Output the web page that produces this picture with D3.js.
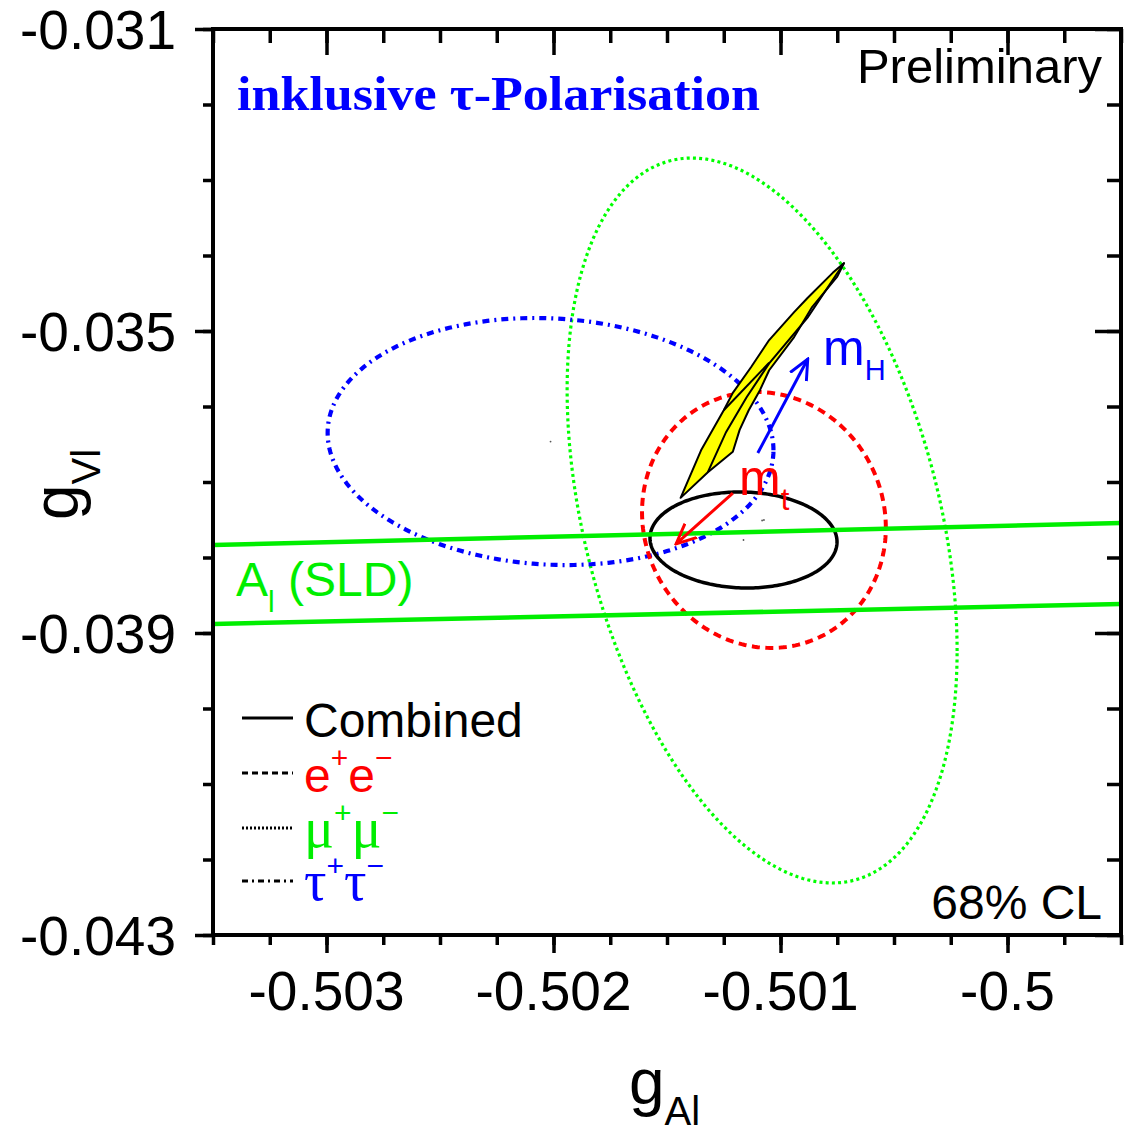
<!DOCTYPE html>
<html>
<head>
<meta charset="utf-8">
<script src="https://cdn.jsdelivr.net/npm/d3@7"></script>
<style>
    body { margin: 0; background: #fff; }
    svg { display: block; }
    text { font-family: Arial, "Liberation Sans", Helvetica, sans-serif; }
    .greek { font-family: "Liberation Serif", "Times New Roman", serif; font-size: 56px; }
</style>
</head>
<body>
<svg id="chart" width="1130" height="1127"></svg>
<script>

    // axes
    var xDomain = [-0.5035, -0.4995];
    var yDomain = [-0.043, -0.031];
    var xMajorTicks = [-0.503, -0.502, -0.501, -0.5];
    var xTickLabels = ["-0.503", "-0.502", "-0.501", "-0.5"];
    var yMajorTicks = [-0.043, -0.039, -0.035, -0.031];
    var yTickLabels = ["-0.043", "-0.039", "-0.035", "-0.031"];

    // 68% CL contours: centre, half widths, correlation
    var contourNames = ["mumu", "tautau", "ee", "combined"];
    var contourCx = [-0.501081, -0.502013, -0.501073, -0.501163];
    var contourCy = [-0.037510, -0.036464, -0.037503, -0.037768];
    var contourSx = [0.000859, 0.000982, 0.000537, 0.000412];
    var contourSy = [0.004801, 0.001636, 0.001695, 0.000636];
    var contourRho = [-0.36, -0.07, -0.06, -0.04];

    // A_l (SLD) band edges
    var sldX = [-0.5035, -0.4995];
    var sldUpper = [-0.037834, -0.037543];
    var sldLower = [-0.038881, -0.038616];

    // SM prediction (yellow)
    var smOuterX = [-0.50072, -0.50077, -0.50088, -0.50094, -0.50105, -0.50113, -0.50121, -0.50125, -0.50135, -0.50144,
        -0.50132, -0.50121, -0.50118, -0.50114, -0.50109, -0.50105, -0.50094, -0.50086, -0.50075];
    var smOuterY = [-0.03410, -0.03423, -0.03456, -0.03475, -0.03512, -0.03548, -0.03582, -0.03605, -0.03658, -0.03721,
        -0.03687, -0.03660, -0.03631, -0.03605, -0.03578, -0.03552, -0.03508, -0.03468, -0.03428];
    var smInner1X = [-0.50125, -0.50105];
    var smInner1Y = [-0.03605, -0.03542];
    var smInner2X = [-0.50132, -0.50124, -0.50115, -0.50105, -0.50088, -0.50072];
    var smInner2Y = [-0.03687, -0.03634, -0.03588, -0.03543, -0.03482, -0.03410];

    // mH and mt arrows (tail, head)
    var arrowMhX = [-0.50110, -0.50088];
    var arrowMhY = [-0.036616, -0.035371];
    var arrowMtX = [-0.50121, -0.50146];
    var arrowMtY = [-0.037146, -0.037821];

    var contourStyle = {
        mumu: { color: "#00ff00", width: 3.2, dash: "3,3.2" },
        tautau: { color: "#0000ff", width: 4.2, dash: "7,5,2,5" },
        ee: { color: "#ff0000", width: 4, dash: "8,5.5" },
        combined: { color: "#000000", width: 3.5, dash: null }
    };

    var svg = d3.select("#chart");

    var pl = 213, pr = 1121, pt = 29, pb = 935;

    var x = d3.scaleLinear().domain(xDomain).range([pl, pr]);
    var y = d3.scaleLinear().domain(yDomain).range([pb, pt]);

    var defs = svg.append("defs");
    defs.append("clipPath").attr("id", "clip")
        .append("rect")
        .attr("x", pl).attr("y", pt)
        .attr("width", pr - pl).attr("height", pb - pt);

    ["blue", "red"].forEach(function (c) {
        defs.append("marker")
            .attr("id", "head-" + c)
            .attr("viewBox", "0 -6 12 12")
            .attr("refX", 11).attr("refY", 0)
            .attr("markerUnits", "userSpaceOnUse")
            .attr("markerWidth", 22).attr("markerHeight", 22)
            .attr("orient", "auto")
            .append("path")
            .attr("d", "M0,-5L11,0L0,5")
            .attr("fill", "none")
            .attr("stroke", c == "blue" ? "#0000ff" : "#ff0000")
            .attr("stroke-width", 1.6);
    });

    var plot = svg.append("g").attr("clip-path", "url(#clip)");

    function contourPoints(i) {
        var r = contourRho[i], s = Math.sqrt(1 - r * r);
        return d3.range(0, 360, 1.5).map(function (deg) {
            var t = deg * Math.PI / 180;
            return [contourCx[i] + contourSx[i] * Math.cos(t),
                contourCy[i] + contourSy[i] * (r * Math.cos(t) + s * Math.sin(t))];
        });
    }

    var lineClosed = d3.line()
        .x(function (d) { return x(d[0]); })
        .y(function (d) { return y(d[1]); })
        .curve(d3.curveLinearClosed);

    var lineOpen = d3.line()
        .x(function (d) { return x(d[0]); })
        .y(function (d) { return y(d[1]); });

    function zipXY(xs, ys) {
        return xs.map(function (d, i) { return [d, ys[i]]; });
    }

    function drawContour(i) {
        var st = contourStyle[contourNames[i]];
        plot.append("path")
            .attr("d", lineClosed(contourPoints(i)))
            .attr("fill", "none")
            .attr("stroke", st.color)
            .attr("stroke-width", st.width)
            .attr("stroke-dasharray", st.dash);
    }

    // green, blue, red below the band
    drawContour(0);
    drawContour(1);
    drawContour(2);

    // SM band
    plot.append("path")
        .attr("d", lineClosed(zipXY(smOuterX, smOuterY)))
        .attr("fill", "#ffff00")
        .attr("stroke", "#000")
        .attr("stroke-width", 2)
        .attr("stroke-linejoin", "round");
    [[smInner1X, smInner1Y], [smInner2X, smInner2Y]].forEach(function (p) {
        plot.append("path")
            .attr("d", lineOpen(zipXY(p[0], p[1])))
            .attr("fill", "none")
            .attr("stroke", "#000")
            .attr("stroke-width", 2);
    });

    drawContour(3);

    // centre marks
    contourCx.forEach(function (d, i) {
        plot.append("circle")
            .attr("cx", x(d)).attr("cy", y(contourCy[i]))
            .attr("r", 0.9).attr("fill", "#555");
    });

    // SLD lines
    [sldUpper, sldLower].forEach(function (band) {
        plot.append("path")
            .attr("d", lineOpen(zipXY(sldX, band)))
            .attr("stroke", "#00ee00")
            .attr("stroke-width", 4.5)
            .attr("fill", "none");
    });

    // arrows
    svg.append("path")
        .attr("d", lineOpen(zipXY(arrowMhX, arrowMhY)))
        .attr("stroke", "#0000ff").attr("stroke-width", 3)
        .attr("marker-end", "url(#head-blue)");
    svg.append("path")
        .attr("d", lineOpen(zipXY(arrowMtX, arrowMtY)))
        .attr("stroke", "#ff0000").attr("stroke-width", 3)
        .attr("marker-end", "url(#head-red)");

    // frame
    svg.append("rect")
        .attr("x", pl).attr("y", pt)
        .attr("width", pr - pl).attr("height", pb - pt)
        .attr("fill", "none").attr("stroke", "#000").attr("stroke-width", 4);

    // ticks
    var xMinor = d3.range(0, 17).map(function (i) { return xDomain[0] + i * 0.00025; });
    var yMinor = d3.range(0, 13).map(function (i) { return yDomain[0] + i * 0.001; });

    function tickAxis(axisFn, scale, vals, size, tx, ty) {
        var g = svg.append("g")
            .attr("transform", "translate(" + tx + "," + ty + ")")
            .call(axisFn(scale).tickValues(vals).tickSize(size).tickFormat(""));
        g.select(".domain").remove();
        g.selectAll("line").attr("stroke", "#000").attr("stroke-width", 3.5);
    }

    // bottom and left point out, top and right point in
    tickAxis(d3.axisBottom, x, xMinor, 10, 0, pb);
    tickAxis(d3.axisBottom, x, xMajorTicks, 18, 0, pb);
    tickAxis(d3.axisTop, x, xMinor, -14, 0, pt);
    tickAxis(d3.axisTop, x, xMajorTicks, -26, 0, pt);
    tickAxis(d3.axisLeft, y, yMinor, 10, pl, 0);
    tickAxis(d3.axisLeft, y, yMajorTicks, 18, pl, 0);
    tickAxis(d3.axisRight, y, yMinor, -14, pr, 0);
    tickAxis(d3.axisRight, y, yMajorTicks, -26, pr, 0);

    // tick labels
    svg.selectAll(".xlab")
        .data(xMajorTicks)
        .enter().append("text")
        .attr("class", "xlab")
        .attr("x", function (d) { return x(d); })
        .attr("y", 1010)
        .attr("text-anchor", "middle")
        .attr("font-size", 55)
        .text(function (d, i) { return xTickLabels[i]; });

    svg.selectAll(".ylab")
        .data(yMajorTicks)
        .enter().append("text")
        .attr("class", "ylab")
        .attr("x", 176)
        .attr("y", function (d) { return y(d) + 20; })
        .attr("text-anchor", "end")
        .attr("font-size", 55)
        .text(function (d, i) { return yTickLabels[i]; });

    // axis titles
    var xt = svg.append("text").attr("x", 629).attr("y", 1104).attr("font-size", 64);
    xt.append("tspan").text("g");
    xt.append("tspan").attr("font-size", 40).attr("dy", 21).text("Al");

    var yt = svg.append("text")
        .attr("transform", "translate(78,520) rotate(-90)")
        .attr("font-size", 64);
    yt.append("tspan").text("g");
    yt.append("tspan").attr("font-size", 40).attr("dy", 22).text("Vl");

    // annotations
    svg.append("text")
        .attr("x", 237).attr("y", 110)
        .attr("class", "greek")
        .style("font-size", "48px")
        .attr("font-weight", "bold")
        .attr("fill", "#0000ff")
        .attr("textLength", 523)
        .attr("lengthAdjust", "spacingAndGlyphs")
        .text("inklusive τ-Polarisation");

    svg.append("text")
        .attr("x", 1102).attr("y", 83)
        .attr("text-anchor", "end")
        .attr("font-size", 49)
        .text("Preliminary");

    svg.append("text")
        .attr("x", 1102).attr("y", 919)
        .attr("text-anchor", "end")
        .attr("font-size", 48)
        .text("68% CL");

    var sld = svg.append("text")
        .attr("x", 236).attr("y", 596)
        .attr("font-size", 48)
        .attr("fill", "#00ee00");
    sld.append("tspan").text("A");
    sld.append("tspan").attr("font-size", 30).attr("dy", 16).text("l");
    sld.append("tspan").attr("dy", -16).text(" (SLD)");

    var mh = svg.append("text")
        .attr("x", 823).attr("y", 365)
        .attr("font-size", 50)
        .attr("fill", "#0000ff");
    mh.append("tspan").text("m");
    mh.append("tspan").attr("font-size", 29).attr("dy", 15).text("H");

    var mt = svg.append("text")
        .attr("x", 739).attr("y", 495)
        .attr("font-size", 50)
        .attr("fill", "#ff0000");
    mt.append("tspan").text("m");
    mt.append("tspan").attr("font-size", 31).attr("dy", 15).text("t");

    // legend
    var legendRows = [
        { key: "combined", y: 737, dash: null, width: 3, color: "#000000" },
        { key: "ee", y: 792, dash: "6,4", width: 3, color: "#ff0000" },
        { key: "mumu", y: 847, dash: "2,2", width: 3, color: "#00ee00" },
        { key: "tautau", y: 900, dash: "6,4,2,4", width: 3, color: "#0000ff" }
    ];

    legendRows.forEach(function (r) {
        svg.append("line")
            .attr("x1", 242).attr("x2", 293)
            .attr("y1", r.y - 19).attr("y2", r.y - 19)
            .attr("stroke", "#000")
            .attr("stroke-width", r.width)
            .attr("stroke-dasharray", r.dash);

        var t = svg.append("text")
            .attr("x", 304).attr("y", r.y)
            .attr("font-size", 48)
            .attr("fill", r.color);

        if (r.key == "combined") {
            t.text("Combined");
            return;
        }
        var base = r.key == "ee" ? "e" : (r.key == "mumu" ? "μ" : "τ");
        var cls = r.key == "ee" ? null : "greek";
        t.append("tspan").attr("class", cls).text(base);
        t.append("tspan").attr("font-size", 30).attr("dy", -24).text("+");
        t.append("tspan").attr("class", cls).attr("dy", 24).text(base);
        t.append("tspan").attr("font-size", 30).attr("dy", -24).text("−");
    });

</script>
</body>
</html>
